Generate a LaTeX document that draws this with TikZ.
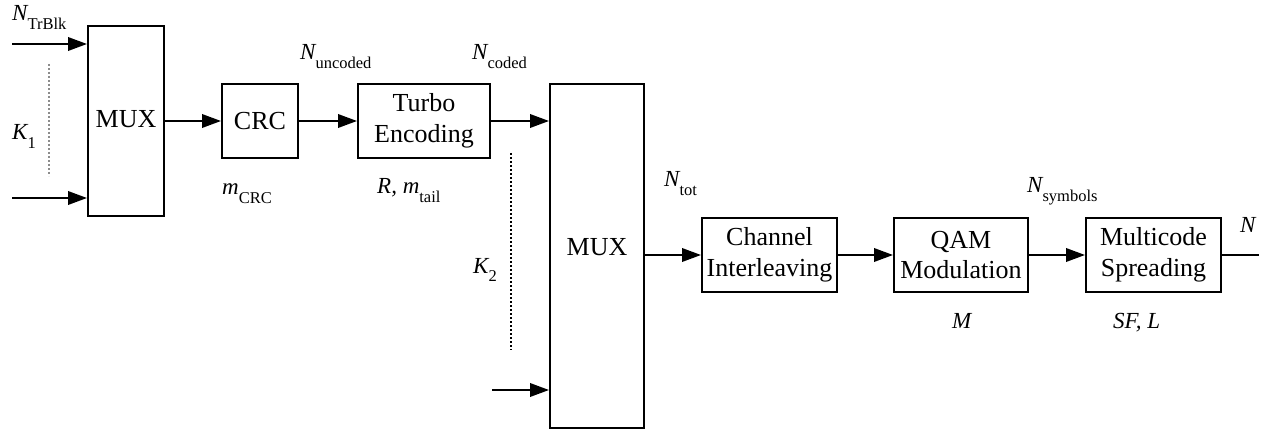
\documentclass[tikz,border=0pt]{standalone}
\usepackage{fontspec}
\setmainfont{Liberation Serif}
\usetikzlibrary{arrows.meta}
\newcommand{\boxfont}{\fontsize{26}{30.5}\selectfont}
\newcommand{\symb}[2]{{\fontsize{23}{26}\selectfont\itshape #1}\raisebox{-8.5pt}{\fontsize{16.5}{18}\selectfont #2}}
\begin{document}
\begin{tikzpicture}[x=1pt,y=-1pt,
  box/.style={draw,line width=2pt,inner sep=0pt,font=\boxfont,align=center},
  arr/.style={line width=2pt,-{Triangle[length=19pt,width=13.5pt]}},
  plain/.style={line width=2pt},
  dots/.style={line width=2.8pt,dash pattern=on 2.4pt off 1.6pt},
  lbl/.style={inner sep=0pt,anchor=base west},
  txt/.style={inner sep=0pt,font=\boxfont}]
\useasboundingbox (0,0) rectangle (1273,430);
% blocks
\node[box,minimum width=76pt,minimum height=190pt] (mux1) at (126,121) {};
\node[txt] (mux1t) at (126,119) {MUX};
\node[box,minimum width=76pt,minimum height=74pt] (crc) at (260,121) {CRC};
\node[box,minimum width=132pt,minimum height=74pt] (turbo) at (424,121) {Turbo\\Encoding};
\node[box,minimum width=94pt,minimum height=344pt] (mux2) at (597,256) {};
\node[txt] (mux2t) at (597,247) {MUX};
\node[box,minimum width=135pt,minimum height=74pt] (chan) at (769.5,255) {Channel\\Interleaving};
\node[box,minimum width=134pt,minimum height=74pt] (qam) at (961,255) {QAM\\Modulation};
\node[box,minimum width=135pt,minimum height=74pt] (multi) at (1153.5,255) {Multicode\\Spreading};
% free ends
\coordinate (i1) at (12,44);
\coordinate (i2) at (12,198);
\coordinate (i3) at (492,390);
\coordinate (out) at (1259,256);
\coordinate (d1a) at (49,64);
\coordinate (d1b) at (49,176);
\coordinate (d2a) at (511,153);
\coordinate (d2b) at (511,350);
% connectors
\draw[arr] (i1) -- (i1 -| mux1.west);
\draw[arr] (i2) -- (i2 -| mux1.west);
\draw[arr] (mux1.east |- crc.west) -- (crc.west);
\draw[arr] (crc.east) -- (turbo.west);
\draw[arr] (turbo.east) -- (turbo.east -| mux2.west);
\draw[arr] (i3) -- (i3 -| mux2.west);
\draw[arr] (mux2.east |- chan.west) -- (chan.west);
\draw[arr] (chan.east) -- (qam.west);
\draw[arr] (qam.east) -- (multi.west);
\draw[plain] (multi.east) -- (multi.east -| out);
\draw[dots,black!45] (d1a) -- (d1b);
\draw[dots] (d2a) -- (d2b);
% labels
\node[lbl] (lTr) at (12,21) {\symb{N}{TrBlk}};
\node[lbl] (lK1) at (12,140) {\symb{K}{1}};
\node[lbl] (lun) at (300,60) {\symb{N}{uncoded}};
\node[lbl] (lco) at (472,60) {\symb{N}{coded}};
\node[lbl] (lcrc) at (222,195) {\symb{m}{CRC}};
\node[lbl] (ltail) at (377,194) {\symb{R, m}{tail}};
\node[lbl] (lK2) at (473,273) {\symb{K}{2}};
\node[lbl] (ltot) at (664,187) {\symb{N}{tot}};
\node[lbl] (lsym) at (1027,193) {\symb{N}{symbols}};
\node[lbl] (lM) at (952,328) {\symb{M}{}};
\node[lbl] (lSF) at (1113,328) {\symb{SF, L}{}};
\node[lbl] (lN) at (1240,233) {\symb{N}{}};
\end{tikzpicture}
\end{document}
